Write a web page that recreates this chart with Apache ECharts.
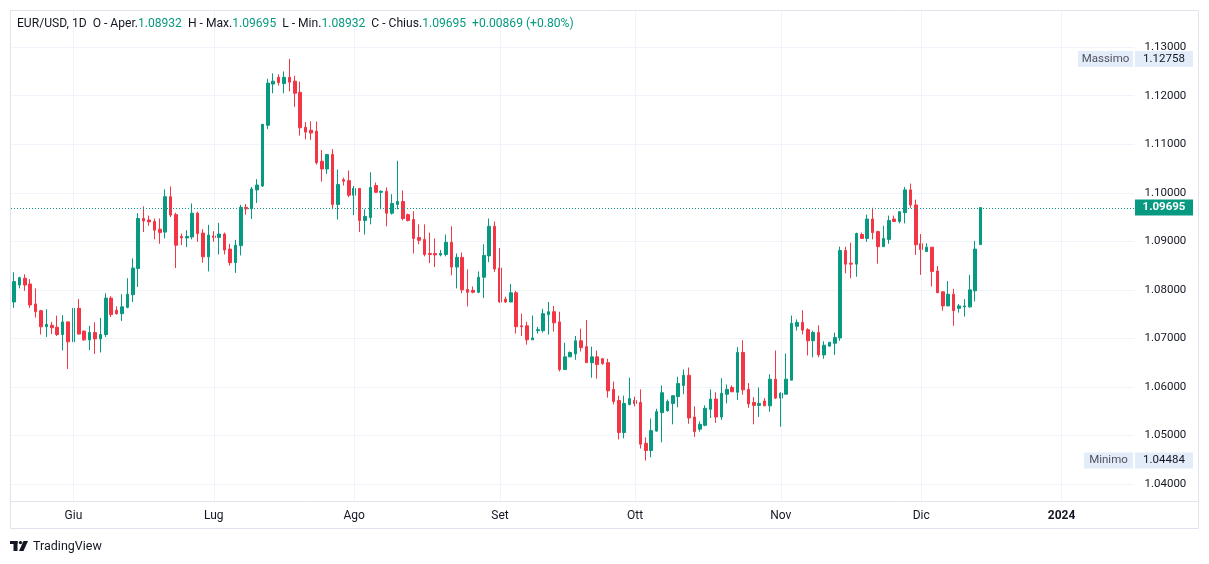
<!DOCTYPE html>
<html>
<head>
<meta charset="utf-8">
<script src="https://cdn.jsdelivr.net/npm/echarts@6/dist/echarts.min.js"></script>
<style>
html,body{margin:0;padding:0;background:#ffffff;}
#chart{width:1209px;height:564px;}
</style>
</head>
<body>
<div id="chart"></div>
<script>
// ---- DATA ----
const symbolTitle = 'EUR/USD, 1D';
const startDate = '2023-05-19';   // first bar; FX feed has Sun–Fri bars
const totalSlots = 208;           // bars + empty future space on the time scale
const tickDates  = ['2023-06-01','2023-07-02','2023-08-01','2023-09-01','2023-10-01','2023-11-01','2023-12-01','2024-01-01'];
const tickLabels = ['Giu','Lug','Ago','Set','Ott','Nov','Dic','2024'];

const opens = [
1.0775,1.0810,1.0824,1.0812,1.0771,1.0757,1.0724,1.0727,1.0723,1.0708,
1.0734,1.0693,1.0762,1.0715,1.0697,1.0712,1.0699,1.0708,1.0783,1.0758,
1.0751,1.0764,1.0790,1.0844,1.0947,1.0944,1.0941,1.0925,1.0919,1.0992,
1.0955,1.0910,1.0907,1.0909,1.0958,1.0917,1.0868,1.0911,1.0908,1.0915,
1.0884,1.0856,1.0891,1.0970,1.0967,1.1006,1.1014,1.1139,1.1224,1.1238,
1.1225,1.1238,1.1230,1.1207,1.1135,1.1129,1.1127,1.1065,1.1049,1.1079,
1.0976,1.1027,1.1025,1.0995,1.1009,1.0943,1.0949,1.1015,1.1001,1.1003,
1.0958,1.0976,1.0982,1.0955,1.0945,1.0908,1.0904,1.0875,1.0875,1.0872,
1.0873,1.0898,1.0847,1.0867,1.0801,1.0799,1.0795,1.0826,1.0870,1.0931,
1.0845,1.0781,1.0775,1.0794,1.0726,1.0726,1.0697,1.0716,1.0716,1.0749,
1.0755,1.0734,1.0636,1.0662,1.0668,1.0695,1.0683,1.0650,1.0662,1.0658,
1.0650,1.0595,1.0572,1.0506,1.0564,1.0572,1.0568,1.0484,1.0469,1.0509,
1.0547,1.0551,1.0566,1.0580,1.0603,1.0624,1.0538,1.0513,1.0521,1.0554,
1.0575,1.0538,1.0585,1.0599,1.0589,1.0671,1.0595,1.0568,1.0562,1.0571,
1.0561,1.0616,1.0577,1.0585,1.0614,1.0725,1.0733,1.0718,1.0695,1.0712,
1.0666,1.0684,1.0690,1.0701,1.0881,1.0855,1.0853,1.0914,1.0906,1.0946,
1.0920,1.0889,1.0904,1.0946,1.0941,1.0959,1.1006,1.0975,1.0895,1.0879,
1.0888,1.0839,1.0796,1.0767,1.0791,1.0762,1.0765,1.0765,1.0798,1.08932];
const highs = [
1.0836,1.0827,1.0832,1.0822,1.0803,1.0759,1.0760,1.0734,1.0747,1.0748,
1.0735,1.0774,1.0781,1.0716,1.0726,1.0733,1.0742,1.0793,1.0787,1.0766,
1.0791,1.0824,1.0865,1.0958,1.0972,1.0953,1.0947,1.0947,1.1007,1.1013,
1.0959,1.0916,1.0923,1.0978,1.0961,1.0925,1.0934,1.0921,1.0938,1.0918,
1.0895,1.0903,1.0975,1.0977,1.1012,1.1028,1.1142,1.1235,1.1246,1.1244,
1.1250,1.12758,1.1241,1.1229,1.1146,1.1147,1.1147,1.1088,1.1080,1.1090,
1.1048,1.1031,1.1046,1.1014,1.1010,1.0966,1.1042,1.1021,1.1005,1.1011,
1.0997,1.1066,1.1005,1.0957,1.0962,1.0935,1.0935,1.0918,1.0906,1.0882,
1.0914,1.0931,1.0875,1.0877,1.0842,1.0807,1.0838,1.0894,1.0947,1.0941,
1.0886,1.0786,1.0812,1.0798,1.0751,1.0734,1.0747,1.0724,1.0761,1.0775,
1.0767,1.0755,1.0691,1.0673,1.0705,1.0720,1.0738,1.0683,1.0675,1.0660,
1.0658,1.0611,1.0582,1.0582,1.0619,1.0580,1.0595,1.0496,1.0535,1.0555,
1.0603,1.0574,1.0582,1.0621,1.0636,1.0640,1.0560,1.0529,1.0562,1.0595,
1.0589,1.0618,1.0605,1.0603,1.0682,1.0696,1.0608,1.0579,1.0599,1.0577,
1.0626,1.0675,1.0589,1.0669,1.0747,1.0739,1.0758,1.0721,1.0716,1.0727,
1.0694,1.0692,1.0712,1.0889,1.0889,1.0897,1.0918,1.0918,1.0955,1.0969,
1.0922,1.0932,1.0953,1.0953,1.0961,1.1012,1.1019,1.0986,1.0915,1.0896,
1.0888,1.0849,1.0796,1.0818,1.0802,1.0771,1.0781,1.0831,1.0901,1.09695];
const lows = [
1.0763,1.0803,1.0798,1.0763,1.0743,1.0708,1.0703,1.0709,1.0705,1.0675,
1.0637,1.0664,1.0708,1.0695,1.0676,1.0668,1.0671,1.0703,1.0744,1.0749,
1.0736,1.0762,1.0775,1.0806,1.0919,1.0932,1.0904,1.0895,1.0906,1.0950,
1.0845,1.0892,1.0888,1.0904,1.0899,1.0856,1.0838,1.0899,1.0873,1.0873,
1.0850,1.0835,1.0871,1.0955,1.0946,1.0979,1.1012,1.1131,1.1205,1.1221,
1.1205,1.1209,1.1177,1.1118,1.1110,1.1109,1.1058,1.1023,1.1039,1.0966,
1.0945,1.1015,1.0991,1.0954,1.0919,1.0914,1.0935,1.1000,1.0966,1.0931,
1.0955,1.0966,1.0943,1.0941,1.0875,1.0894,1.0869,1.0855,1.0847,1.0869,
1.0869,1.0830,1.0803,1.0793,1.0766,1.0793,1.0793,1.0783,1.0857,1.0837,
1.0773,1.0773,1.0775,1.0710,1.0705,1.0687,1.0697,1.0710,1.0712,1.0708,
1.0714,1.0632,1.0636,1.0662,1.0656,1.0673,1.0650,1.0619,1.0617,1.0646,
1.0578,1.0564,1.0492,1.0494,1.0562,1.0560,1.0473,1.04484,1.0455,1.0508,
1.0486,1.0549,1.0523,1.0558,1.0585,1.0524,1.0497,1.0508,1.0519,1.0536,
1.0526,1.0532,1.0566,1.0590,1.0573,1.0584,1.0557,1.0523,1.0538,1.0561,
1.0549,1.0575,1.0518,1.0585,1.0614,1.0716,1.0708,1.0665,1.0661,1.0661,
1.0658,1.0684,1.0666,1.0695,1.0834,1.0824,1.0827,1.0906,1.0899,1.0904,
1.0854,1.0889,1.0895,1.0941,1.0937,1.0937,1.0969,1.0872,1.0831,1.0879,
1.0807,1.0794,1.0757,1.0767,1.0726,1.0753,1.0745,1.0763,1.0776,1.08932];
const closes = [
1.0817,1.0825,1.0810,1.0769,1.0755,1.0724,1.0729,1.0722,1.0708,1.0734,
1.0693,1.0762,1.0709,1.0697,1.0712,1.0699,1.0708,1.0783,1.0749,1.0751,
1.0765,1.0791,1.0845,1.0947,1.0942,1.0940,1.0923,1.0918,1.0992,1.0954,
1.0892,1.0907,1.0910,1.0958,1.0916,1.0868,1.0913,1.0908,1.0915,1.0882,
1.0856,1.0892,1.0970,1.0967,1.1008,1.1016,1.1141,1.1226,1.1230,1.1227,
1.1238,1.1228,1.1205,1.1134,1.1125,1.1123,1.1062,1.1049,1.1079,1.0976,
1.1017,1.1024,1.0995,1.1009,1.0943,1.0951,1.1011,1.1001,1.1003,1.0958,
1.0978,1.0982,1.0947,1.0943,1.0906,1.0902,1.0873,1.0873,1.0872,1.0875,
1.0898,1.0847,1.0867,1.0800,1.0795,1.0795,1.0826,1.0871,1.0931,1.0843,
1.0775,1.0775,1.0794,1.0724,1.0724,1.0697,1.0701,1.0718,1.0751,1.0755,
1.0732,1.0636,1.0662,1.0671,1.0695,1.0681,1.0650,1.0662,1.0646,1.0648,
1.0592,1.0570,1.0506,1.0566,1.0576,1.0566,1.0482,1.0469,1.0510,1.0549,
1.0588,1.0570,1.0582,1.0607,1.0624,1.0536,1.0508,1.0523,1.0556,1.0575,
1.0538,1.0587,1.0595,1.0590,1.0671,1.0594,1.0565,1.0562,1.0566,1.0561,
1.0616,1.0577,1.0587,1.0616,1.0731,1.0733,1.0717,1.0695,1.0712,1.0666,
1.0686,1.0692,1.0702,1.0881,1.0853,1.0853,1.0916,1.0906,1.0946,1.0918,
1.0889,1.0906,1.0943,1.0941,1.0961,1.1006,1.0975,1.0893,1.0883,1.0888,
1.0838,1.0794,1.0767,1.0791,1.0757,1.0767,1.0767,1.0800,1.0884,1.09695];
const lastChange = 0.00869;
const lastChangePct = 0.80;
const highLabel = 'Massimo';
const lowLabel = 'Minimo';

// ---- BUILD ----
const UP = '#089981', DOWN = '#f23645', TXT = '#131722', FRAME = '#e0e3eb', GRID = '#f0f3fa';
const categories = [];
(function(){
  const p = startDate.split('-').map(Number);
  let d = new Date(Date.UTC(p[0], p[1]-1, p[2]));
  while (categories.length < totalSlots) {
    if (d.getUTCDay() !== 6) categories.push(d.toISOString().slice(0,10));
    d = new Date(d.getTime() + 86400000);
  }
})();
const candleData = opens.map((o,i)=>[o, closes[i], lows[i], highs[i]]);
const lastIdx = opens.length - 1;
const lastClose = closes[lastIdx];
const maxHigh = Math.max(...highs);
const minLow = Math.min(...lows);
const f5 = v => v.toFixed(5);

const chart = echarts.init(document.getElementById('chart'), null, {renderer:'canvas'});
const FONT = 'Roboto, "Noto Sans", sans-serif';
const emptyLine = categories.map(()=>'-');

chart.setOption({
  animation: false,
  backgroundColor: '#ffffff',
  grid: {left: 11.3, right: 74.5, top: 10, bottom: 63, containLabel: false},
  xAxis: {
    type: 'category', data: categories, boundaryGap: true,
    axisLine: {show: false}, axisTick: {show: false}, splitLine: {show: false},
    axisLabel: {
      interval: (i, v) => tickDates.indexOf(v) >= 0,
      formatter: v => { const k = tickDates.indexOf(v); if (k < 0) return ''; const t = tickLabels[k]; return /^\d{4}$/.test(t) ? '{y|' + t + '}' : t; },
      color: TXT, fontSize: 12, fontFamily: FONT, margin: 9,
      rich: {y: {fontWeight: 'bold', fontSize: 12, color: TXT, fontFamily: FONT}}
    }
  },
  yAxis: {
    type: 'value', position: 'right', scale: true,
    min: 1.0365, max: 1.13766, splitNumber: 10,
    axisLine: {show: false}, axisTick: {show: false},
    splitLine: {show: true, lineStyle: {color: GRID, width: 1}},
    axisLabel: {formatter: v => v.toFixed(5), color: TXT, fontSize: 11.5, fontFamily: FONT, margin: 10, align: 'left', showMinLabel: false, showMaxLabel: false}
  },
  series: [
    {
      type: 'line', data: emptyLine, z: 1, silent: true, symbol: 'none',
      markLine: {
        silent: true, symbol: ['none','none'], label: {show: false}, animation: false,
        lineStyle: {color: GRID, width: 1, type: 'solid'},
        data: tickDates.map(d => ({xAxis: d}))
      }
    },
    {
      type: 'candlestick', data: candleData, z: 3, barWidth: 3,
      itemStyle: {color: UP, color0: DOWN, borderColor: UP, borderColor0: DOWN, borderWidth: 1}
    }
  ]
});

function yPix(v){ return chart.convertToPixel({yAxisIndex: 0}, v); }
const yMax = yPix(maxHigh), yMin = yPix(minLow), yLast = yPix(lastClose);
const BOXBG = '#e3ecf9';
const g = [];
// frame
g.push({type:'rect', shape:{x:10.5, y:10.5, width:1188, height:518}, style:{fill:null, stroke:FRAME, lineWidth:1}, z:10, silent:true});
g.push({type:'line', shape:{x1:10, y1:501.5, x2:1199, y2:501.5}, style:{stroke:FRAME, lineWidth:1}, z:10, silent:true});
// last price dotted line
const yl = Math.round(yLast) + 0.5;
g.push({type:'line', shape:{x1:11, y1:yl, x2:1135, y2:yl}, style:{stroke:UP, lineWidth:1, lineDash:[1,2]}, z:12, silent:true});
// header
g.push({type:'text', left: 17, top: 18, z: 20, style:{
  text: '{t|' + symbolTitle + '  O - Aper.}{v|' + f5(opens[lastIdx]) + '}{t|  H - Max.}{v|' + f5(highs[lastIdx]) +
        '}{t|  L - Min.}{v|' + f5(lows[lastIdx]) + '}{t|  C - Chius.}{v|' + f5(closes[lastIdx]) + '}{v|  +' + lastChange.toFixed(5) + ' (+' + lastChangePct.toFixed(2) + '%)}',
  rich: {t:{fill: TXT, fontSize: 12.1, fontFamily: FONT}, v:{fill: UP, fontSize: 12.1, fontFamily: FONT}}
}});
// high / low / last labels
function tagBox(y, label, value, labelW){
  if (label) {
    g.push({type:'rect', shape:{x:1133-labelW, y: y-8, width: labelW, height: 16}, style:{fill: BOXBG}, z: 15});
    g.push({type:'text', x: 1133 - labelW/2, y: y, z: 16, style:{text: label, fill: '#50535e', fontSize: 11.5, fontFamily: FONT, align:'center', verticalAlign:'middle'}});
  }
  g.push({type:'rect', shape:{x:1135, y: y-8, width: 58, height: 16}, style:{fill: BOXBG}, z: 15});
  g.push({type:'text', x: 1164, y: y, z: 16, style:{text: value, fill: TXT, fontSize: 11.5, fontFamily: FONT, align:'center', verticalAlign:'middle'}});
}
tagBox(yMax, highLabel, f5(maxHigh), 55);
tagBox(yMin, lowLabel, f5(minLow), 49);
g.push({type:'rect', shape:{x:1135, y: yLast-8, width: 58, height: 16}, style:{fill: UP}, z: 15});
g.push({type:'text', x: 1164, y: yLast, z: 16, style:{text: f5(lastClose), fill: '#ffffff', fontSize: 11.5, fontWeight: 'bold', fontFamily: FONT, align:'center', verticalAlign:'middle'}});
// TradingView logo
g.push({type:'rect', shape:{x:10, y:541, width:7.5, height:3}, style:{fill:'#131722'}, z:20});
g.push({type:'rect', shape:{x:13.5, y:541, width:4, height:10}, style:{fill:'#131722'}, z:20});
g.push({type:'circle', shape:{cx:20.5, cy:542.6, r:1.7}, style:{fill:'#131722'}, z:20});
g.push({type:'polygon', shape:{points:[[23.5,541],[28,541],[23.5,551],[19,551]]}, style:{fill:'#131722'}, z:20});
g.push({type:'text', x: 33, y: 546.5, z: 20, style:{text:'TradingView', fill: TXT, fontSize: 12.5, fontFamily: FONT, verticalAlign:'middle'}});
chart.setOption({graphic: g});
</script>
</body>
</html>
